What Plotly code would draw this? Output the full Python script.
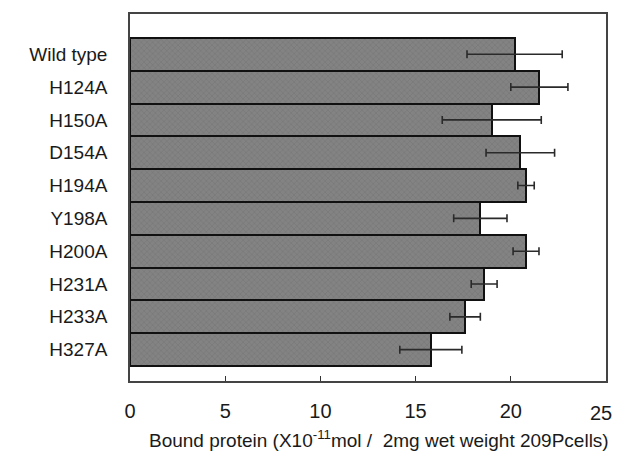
import plotly.graph_objects as go

categories = ["Wild type", "H124A", "H150A", "D154A", "H194A",
              "Y198A", "H200A", "H231A", "H233A", "H327A"]
values = [20.2, 21.5, 19.0, 20.5, 20.8, 18.4, 20.8, 18.6, 17.6, 15.8]
errors = [2.5, 1.5, 2.6, 1.8, 0.43, 1.4, 0.68, 0.68, 0.8, 1.63]
x_ticks = [0, 5, 10, 15, 20, 25]
x_tick_labels = ["0", "5", "10", "15", "20", ""]
last_tick_label = "25"
x_title = "Bound protein (X10<sup>-11</sup>mol /  2mg wet weight 209Pcells)"

fig = go.Figure()
fig.add_trace(go.Bar(
    y=categories, x=values, orientation="h",
    marker=dict(
        color="#808080",
        line=dict(color="#111111", width=2),
        pattern=dict(shape="x", size=4, solidity=0.2,
                     fgcolor="#707070", bgcolor="#838383", fillmode="replace"),
    ),
    error_x=dict(type="data", array=errors, symmetric=True,
                 color="#2a2a2a", thickness=1.6, width=4),
    showlegend=False,
))

# last x tick label drawn as text, nudged left as in the original figure
fig.add_annotation(
    text=last_tick_label, xref="x", yref="paper", x=x_ticks[-1], y=-0.088,
    xanchor="center", yanchor="middle", xshift=-5, showarrow=False,
    font=dict(size=20, color="#1a1a1a"),
)

fig.add_annotation(
    text=x_title, xref="paper", yref="paper", x=0.523, y=-0.157,
    xanchor="center", yanchor="middle", showarrow=False,
    font=dict(size=19, color="#1a1a1a"),
)

fig.update_layout(
    width=604, height=443,
    margin=dict(l=122, r=6, t=4, b=70),
    paper_bgcolor="white", plot_bgcolor="white",
    bargap=0,
    font=dict(family="Liberation Sans, Arial, sans-serif", color="#1a1a1a"),
    xaxis=dict(
        range=[0, 25], tickvals=x_ticks, ticktext=x_tick_labels,
        ticks="inside", ticklen=5, tickcolor="#333", tickwidth=1.2,
        showline=True, linecolor="#444", linewidth=1.5, mirror=True,
        showgrid=False, zeroline=False,
        tickfont=dict(size=20), ticklabelstandoff=11,
    ),
    yaxis=dict(
        type="category", categoryorder="array", categoryarray=categories,
        range=[9.955, -1.227],
        showline=True, linecolor="#444", linewidth=1.5, mirror=True,
        showgrid=False, zeroline=False, ticks="",
        tickfont=dict(size=19), ticklabelstandoff=17,
    ),
)

fig.write_html("out.html")
